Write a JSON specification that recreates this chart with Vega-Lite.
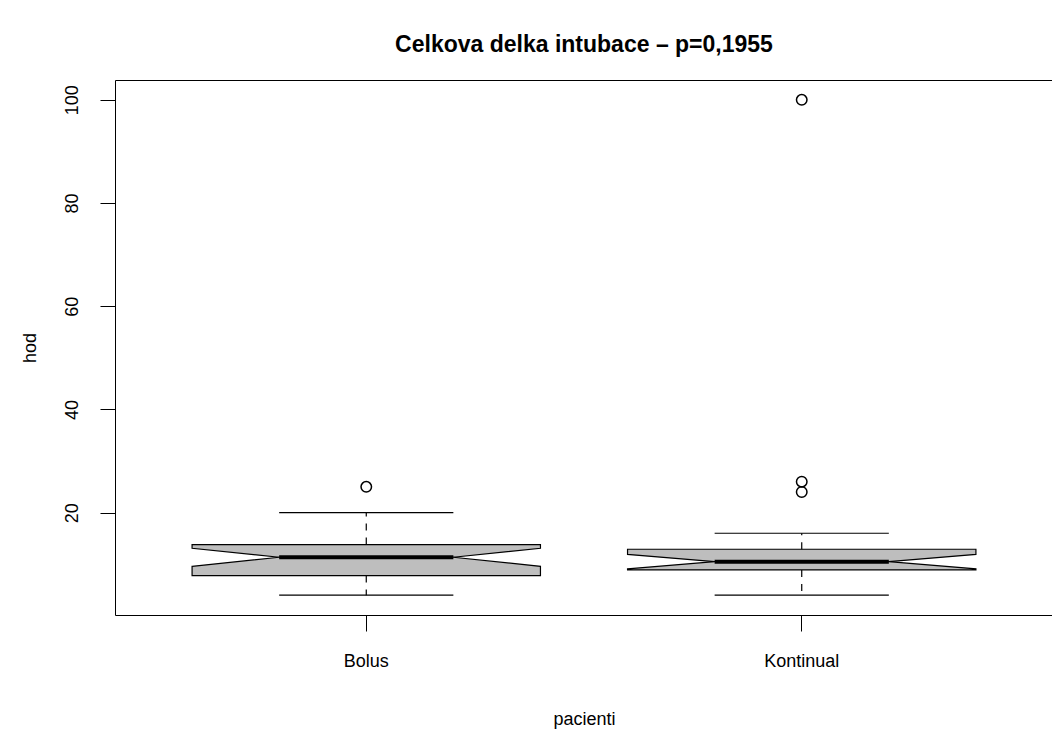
{
  "$schema": "https://vega.github.io/schema/vega-lite/v6.json",
  "width": 938,
  "height": 535,
  "autosize": "none",
  "padding": {"left": 115, "top": 80, "right": 0, "bottom": 120},
  "background": "white",
  "title": {"text": "Celkova delka intubace – p=0,1955", "font": "Liberation Sans", "fontSize": 23, "fontWeight": "bold", "color": "black", "anchor": "middle", "offset": 23},
  "config": {
    "font": "Liberation Sans",
    "view": {"stroke": "black", "strokeWidth": 1}
  },
  "datasets": {
    "notch": [
      {"g": "Bolus", "part": "upper", "v": "e0", "y": 13.8, "y2": 13.1},
      {"g": "Bolus", "part": "upper", "v": "i0", "y": 13.8, "y2": 11.35},
      {"g": "Bolus", "part": "upper", "v": "i1", "y": 13.8, "y2": 11.35},
      {"g": "Bolus", "part": "upper", "v": "e1", "y": 13.8, "y2": 13.1},
      {"g": "Bolus", "part": "lower", "v": "e0", "y": 9.6, "y2": 7.8},
      {"g": "Bolus", "part": "lower", "v": "i0", "y": 11.35, "y2": 7.8},
      {"g": "Bolus", "part": "lower", "v": "i1", "y": 11.35, "y2": 7.8},
      {"g": "Bolus", "part": "lower", "v": "e1", "y": 9.6, "y2": 7.8},
      {"g": "Kontinual", "part": "upper", "v": "e0", "y": 12.9, "y2": 11.9},
      {"g": "Kontinual", "part": "upper", "v": "i0", "y": 12.9, "y2": 10.5},
      {"g": "Kontinual", "part": "upper", "v": "i1", "y": 12.9, "y2": 10.5},
      {"g": "Kontinual", "part": "upper", "v": "e1", "y": 12.9, "y2": 11.9},
      {"g": "Kontinual", "part": "lower", "v": "e0", "y": 9.1, "y2": 8.9},
      {"g": "Kontinual", "part": "lower", "v": "i0", "y": 10.5, "y2": 8.9},
      {"g": "Kontinual", "part": "lower", "v": "i1", "y": 10.5, "y2": 8.9},
      {"g": "Kontinual", "part": "lower", "v": "e1", "y": 9.1, "y2": 8.9}
    ],
    "whisker": [
      {"g": "Bolus", "part": "up", "v": "mid", "y": 13.8},
      {"g": "Bolus", "part": "up", "v": "mid", "y": 20},
      {"g": "Bolus", "part": "low", "v": "mid", "y": 7.8},
      {"g": "Bolus", "part": "low", "v": "mid", "y": 4},
      {"g": "Kontinual", "part": "up", "v": "mid", "y": 12.9},
      {"g": "Kontinual", "part": "up", "v": "mid", "y": 16},
      {"g": "Kontinual", "part": "low", "v": "mid", "y": 8.9},
      {"g": "Kontinual", "part": "low", "v": "mid", "y": 4}
    ],
    "staple": [
      {"g": "Bolus", "part": "up", "v": "i0", "y": 20},
      {"g": "Bolus", "part": "up", "v": "i1", "y": 20},
      {"g": "Bolus", "part": "low", "v": "i0", "y": 4},
      {"g": "Bolus", "part": "low", "v": "i1", "y": 4},
      {"g": "Kontinual", "part": "up", "v": "i0", "y": 16},
      {"g": "Kontinual", "part": "up", "v": "i1", "y": 16},
      {"g": "Kontinual", "part": "low", "v": "i0", "y": 4},
      {"g": "Kontinual", "part": "low", "v": "i1", "y": 4}
    ],
    "median": [
      {"g": "Bolus", "v": "i0", "y": 11.35},
      {"g": "Bolus", "v": "i1", "y": 11.35},
      {"g": "Kontinual", "v": "i0", "y": 10.5},
      {"g": "Kontinual", "v": "i1", "y": 10.5}
    ],
    "outliers": [
      {"g": "Bolus", "v": "mid", "y": 25},
      {"g": "Kontinual", "v": "mid", "y": 100},
      {"g": "Kontinual", "v": "mid", "y": 26},
      {"g": "Kontinual", "v": "mid", "y": 24}
    ]
  },
  "encoding": {
    "x": {
      "field": "g", "type": "nominal", "title": "pacienti",
      "scale": {"domain": ["Bolus", "Kontinual"], "paddingInner": 0.2, "paddingOuter": 0.177},
      "axis": {"domain": false, "grid": false, "ticks": true, "tickSize": 16, "tickColor": "black", "labelAngle": 0, "labelFontSize": 18, "labelColor": "black", "labelPadding": 21, "titleFontSize": 18, "titleFontWeight": "normal", "titleColor": "black", "titlePadding": 40}
    },
    "xOffset": {
      "field": "v", "type": "nominal",
      "scale": {"type": "point", "domain": ["e0", "i0", "mid", "i1", "e1"], "padding": 0}
    },
    "y": {
      "field": "y", "type": "quantitative", "title": "hod",
      "scale": {"domain": [0.16, 103.84], "nice": false, "zero": false},
      "axis": {"values": [20, 40, 60, 80, 100], "domain": false, "grid": false, "tickSize": 15, "tickColor": "black", "labelAngle": -90, "labelAlign": "center", "labelBaseline": "bottom", "labelFontSize": 18, "labelColor": "black", "labelPadding": 19, "titleFontSize": 18, "titleFontWeight": "normal", "titleColor": "black", "titlePadding": 24}
    }
  },
  "layer": [
    {
      "data": {"name": "notch"},
      "mark": {"type": "area", "fill": "#bebebe", "stroke": "black", "strokeWidth": 1.2, "opacity": 1},
      "encoding": {
        "y2": {"field": "y2"},
        "detail": [{"field": "g"}, {"field": "part"}]
      }
    },
    {
      "data": {"name": "whisker"},
      "mark": {"type": "line", "color": "black", "strokeWidth": 1.2, "strokeDash": [7, 7]},
      "encoding": {"detail": [{"field": "g"}, {"field": "part"}]}
    },
    {
      "data": {"name": "staple"},
      "mark": {"type": "line", "color": "black", "strokeWidth": 1.2},
      "encoding": {"detail": [{"field": "g"}, {"field": "part"}]}
    },
    {
      "data": {"name": "median"},
      "mark": {"type": "line", "color": "black", "strokeWidth": 4, "strokeCap": "butt"},
      "encoding": {"detail": {"field": "g"}}
    },
    {
      "data": {"name": "outliers"},
      "mark": {"type": "point", "shape": "circle", "filled": false, "color": "black", "size": 110, "strokeWidth": 1.5, "opacity": 1},
      "encoding": {}
    }
  ]
}
